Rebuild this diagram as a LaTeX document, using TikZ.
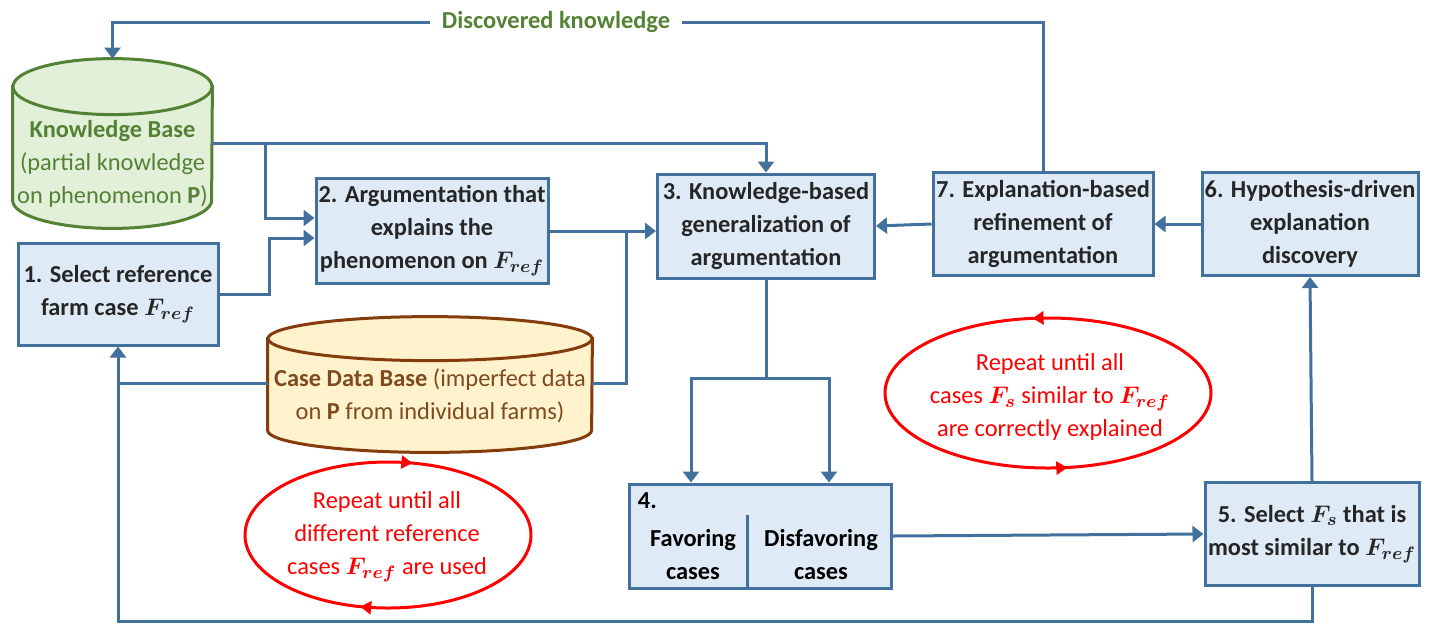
\documentclass[tikz,border=0pt]{standalone}
\usepackage{amsmath}
\usepackage{fontspec}
\setmainfont{Carlito}
\usetikzlibrary{arrows.meta,decorations.markings,backgrounds}

\definecolor{boxfill}{HTML}{DEEBF7}
\definecolor{boxline}{HTML}{41719C}
\definecolor{kbfill}{HTML}{E2F0D9}
\definecolor{kbline}{HTML}{548235}
\definecolor{dbfill}{HTML}{FFF2CC}
\definecolor{dbline}{HTML}{843C0C}
\definecolor{dbtext}{HTML}{7F4A1E}

\newcommand{\Fref}{\ensuremath{\boldsymbol{F_{ref}}}}
\newcommand{\Fsim}{\ensuremath{\boldsymbol{F_{s}}}}

\begin{document}
\begin{tikzpicture}[x=0.5pt,y=-0.5pt,
	txt/.style={align=center, font=\fontsize{12.2}{16.5}\selectfont},
	boldtxt/.style={txt, font=\fontsize{12.2}{16.5}\selectfont\bfseries},
	procbox/.style={boldtxt, draw=boxline, fill=boxfill, line width=1.5pt, inner sep=1pt, text=black!85},
	link/.style={draw=boxline, line width=1.5pt},
	flow/.style={link, -{Triangle[length=5.5pt,width=8pt]}},
	repeatloop/.style={draw=red, line width=1.5pt, postaction={decorate}},
]
	\useasboundingbox (0,0) rectangle (1430,623);

	% steps
	\node[procbox, minimum width=100pt, minimum height=51pt] (b1) at (118,294) {1. Select reference\\farm case \Fref};
	\node[procbox, minimum width=116pt, minimum height=52.5pt] (b2) at (432,231) {2. Argumentation that\\explains the\\phenomenon on \Fref};
	\node[procbox, minimum width=108.5pt, minimum height=52pt] (b3) at (766,226) {3. Knowledge-based\\generalization of\\argumentation};
	\node[procbox, minimum width=131pt, minimum height=52pt] (b4) at (760,536) {};
	\node[procbox, minimum width=107pt, minimum height=51.5pt] (b5) at (1312,534) {5. Select \Fsim{} that is\\most similar to \Fref};
	\node[procbox, minimum width=108pt, minimum height=51.5pt] (b6) at (1310,224) {6. Hypothesis-driven\\explanation\\discovery};
	\node[procbox, minimum width=110pt, minimum height=51.5pt] (b7) at (1043,224) {7. Explanation-based\\refinement of\\argumentation};

	\node[boldtxt, anchor=north west, inner sep=0pt] (b4num) at ([xshift=5pt,yshift=-5pt]b4.north west) {4.};
	\node[boldtxt] (fav) at (693,555) {Favoring\\cases};
	\node[boldtxt] (disfav) at (821,555) {Disfavoring\\cases};
	\draw[link] (747,515) -- (747,588);

	% data stores
	\node[txt, text=kbline, minimum width=99.5pt, minimum height=77pt, inner sep=0pt] (kb) at (112.5,164)
		{\textbf{Knowledge Base}\\(partial knowledge\\on phenomenon \textbf{P})};
	\node[txt, text=dbtext, minimum width=162pt, minimum height=56.5pt, inner sep=0pt] (db) at (430,395.5)
		{\textbf{Case Data Base} (imperfect data\\on \textbf{P} from individual farms)};

	\begin{scope}[on background layer]
		\path[fill=kbfill, draw=kbline, line width=1.5pt] (kb.north west) -- ([yshift=20.5pt]kb.south west)
			arc[start angle=180, end angle=360, x radius=49.75pt, y radius=14pt] -- (kb.north east) -- cycle;
		\path[fill=kbfill, draw=kbline, line width=1.5pt] (kb.north) ellipse [x radius=49.75pt, y radius=14pt];
		\path[fill=dbfill, draw=dbline, line width=1.5pt] (db.north west) -- ([yshift=11pt]db.south west)
			arc[start angle=180, end angle=360, x radius=81pt, y radius=11pt] -- (db.north east) -- cycle;
		\path[fill=dbfill, draw=dbline, line width=1.5pt] (db.north) ellipse [x radius=81pt, y radius=11pt];
	\end{scope}

	% repeat loops
	\coordinate (loopa) at (388,535);
	\coordinate (loopb) at (1048,393);
	\node[txt, text=red] (rep1) at (387,537) {Repeat until all\\different reference\\cases \Fref{} are used};
	\node[txt, text=red] (rep2) at (1050,397) {Repeat until all\\cases \Fsim{} similar to \Fref\\are correctly explained};
	\draw[repeatloop, decoration={markings,
			mark=at position 0.285 with {\arrow{Triangle[length=5.5pt,width=6.5pt]}},
			mark=at position 0.79 with {\arrow{Triangle[length=5.5pt,width=6.5pt]}}}]
		([xshift=-71.5pt]loopa) arc[start angle=180, end angle=-180, x radius=71.5pt, y radius=36.5pt];
	\draw[repeatloop, decoration={markings,
			mark=at position 0.27 with {\arrow{Triangle[length=5.5pt,width=6.5pt]}},
			mark=at position 0.775 with {\arrow{Triangle[length=5.5pt,width=6.5pt]}}}]
		([xshift=81.5pt]loopb) arc[start angle=0, end angle=360, x radius=81.5pt, y radius=37.5pt];

	% connectors
	\coordinate (kbout) at ([yshift=10.5pt]kb.east);
	\coordinate (dbl) at ([yshift=6pt]db.west);
	\coordinate (dbr) at ([yshift=6pt]db.east);
	\coordinate (join) at ([xshift=38.5pt]b2.east);
	\coordinate (split) at (766,378);
	\coordinate (topline) at (0,22);
	\coordinate (bottomline) at (0,621);

	\draw[flow] (kbout) -| (b3.north);
	\draw[flow] ([xshift=26.5pt]kbout) |- ([yshift=6.5pt]b2.west);
	\draw[flow] (b1.east) -- ++(50,0) |- ([yshift=-3.5pt]b2.west);
	\draw[flow] (b2.east) -- (b3.west |- b2.east);
	\draw[link] (dbr) -| (join);
	\draw[link] (dbl) -- (dbl -| b1.south);
	\draw[link] (b3.south) -- (split);
	\draw[flow] (split) -| (b4.north -| 691,0);
	\draw[flow] (split) -| (b4.north -| 829,0);
	\draw[flow] (b4.east) -- (b5.west);
	\draw[flow] (b5.north) -- (b6.south);
	\draw[flow] (b6.west) -- (b7.east);
	\draw[flow] (b7.west) -- (b3.east);
	\draw[flow] (b5.south) -- (b5.south |- bottomline) -- (b1.south |- bottomline) -- (b1.south);
	\draw[flow] (b7.north) |- (kb.north |- topline) -- ([yshift=14pt]kb.north);

	\node[boldtxt, fill=white, text=kbline, inner xsep=6pt] (found) at (556,22) {Discovered knowledge};

\end{tikzpicture}
\end{document}
